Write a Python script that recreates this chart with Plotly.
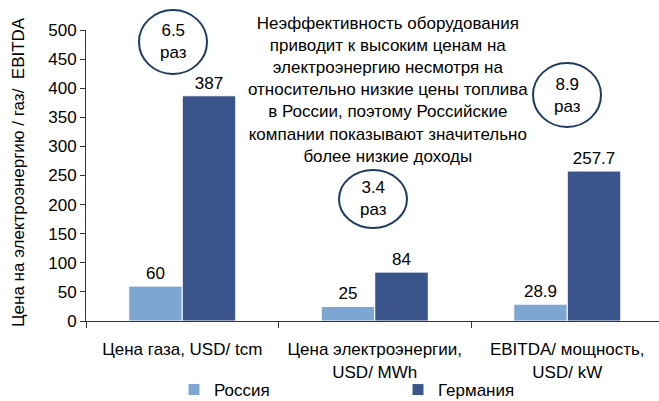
import plotly.graph_objects as go

categories = ["Цена газа, USD/ tcm", "Цена электроэнергии,<br>USD/ MWh", "EBITDA/ мощность,<br>USD/ kW"]
russia = [60, 25, 28.9]
germany = [387, 84, 257.7]
series_names = ["Россия", "Германия"]
ratio_labels = ["6.5<br>раз", "3.4<br>раз", "8.9<br>раз"]
y_ticks = [0, 50, 100, 150, 200, 250, 300, 350, 400, 450, 500]
note = ("Неэффективность оборудования<br>приводит к высоким ценам на<br>"
        "электроэнергию несмотря на<br>относительно низкие цены топлива<br>"
        "в России, поэтому Российские<br>компании показывают значительно<br>"
        "более низкие доходы")
y_title = "Цена на электроэнергию / газ/  EBITDA"

W, H = 659, 401
L, R, T, B = 86, 0, 30, 80
FONT = "Liberation Sans, Arial, sans-serif"
FS = 17
C_RU = "#7EA6D3"
C_DE = "#3A558C"
C_CIRCLE = "#1F3B62"

pw = W - L - R
ph = H - T - B


def px(x):
    return (x - L) / pw


def py(y):
    return (H - B - y) / ph


fig = go.Figure()
fig.add_trace(go.Bar(x=categories, y=russia, name=series_names[0],
                     marker=dict(color=C_RU, line=dict(color="white", width=1)),
                     texttemplate="%{y}", textposition="outside", cliponaxis=False,
                     textfont=dict(size=FS, color="black", family=FONT)))
fig.add_trace(go.Bar(x=categories, y=germany, name=series_names[1],
                     marker=dict(color=C_DE, line=dict(color="white", width=1)),
                     texttemplate="%{y}", textposition="outside", cliponaxis=False,
                     textfont=dict(size=FS, color="black", family=FONT)))

# ratio circles (pixel centres, radii)
circles = [(173, 42, 34, 32), (373, 199, 34, 29), (567, 95, 34, 32)]
shapes = []
annotations = []
for (cx, cy, rx, ry), lab in zip(circles, ratio_labels):
    shapes.append(dict(type="circle", xref="paper", yref="paper",
                       x0=px(cx - rx), x1=px(cx + rx), y0=py(cy + ry), y1=py(cy - ry),
                       line=dict(color=C_CIRCLE, width=2), fillcolor="rgba(0,0,0,0)"))
    annotations.append(dict(text=lab, xref="paper", yref="paper", x=px(cx), y=py(cy),
                            xanchor="center", yanchor="middle", showarrow=False,
                            font=dict(size=FS, color="black", family=FONT)))

annotations.append(dict(text=note, xref="paper", yref="paper", x=px(388), y=py(90),
                        xanchor="center", yanchor="middle", showarrow=False, align="center",
                        font=dict(size=FS, color="black", family=FONT)))
annotations.append(dict(text=y_title, xref="paper", yref="paper", x=px(18), y=py(172),
                        xanchor="center", yanchor="middle", showarrow=False, textangle=-90,
                        font=dict(size=17, color="black", family=FONT)))

fig.update_layout(
    width=W, height=H,
    margin=dict(l=L, r=R, t=T, b=B, autoexpand=False),
    paper_bgcolor="white", plot_bgcolor="white",
    barmode="group", bargap=0.444, bargroupgap=0,
    font=dict(family=FONT, size=FS, color="black"),
    shapes=shapes, annotations=annotations,
    legend=dict(orientation="h", x=px(174), xanchor="left", y=py(408), yanchor="bottom",
                entrywidth=179, font=dict(size=FS, color="black", family=FONT),
                bgcolor="rgba(0,0,0,0)"),
    xaxis=dict(range=[-0.5, -0.5 + pw / 192.5], showline=True, linecolor="#333", linewidth=1,
               ticks="outside", ticklen=6, tickcolor="#333", tickson="boundaries",
               ticklabelstandoff=13,
               showgrid=False, tickfont=dict(size=FS, color="black")),
    yaxis=dict(range=[0, 500], tickvals=y_ticks, showline=True, linecolor="#333", linewidth=1,
               ticks="outside", ticklen=5, tickcolor="#333", showgrid=False, zeroline=False,
               tickfont=dict(size=FS, color="black")),
)

fig.write_html("out.html", config={"displayModeBar": False},
               post_script="document.body.style.margin='0';")
